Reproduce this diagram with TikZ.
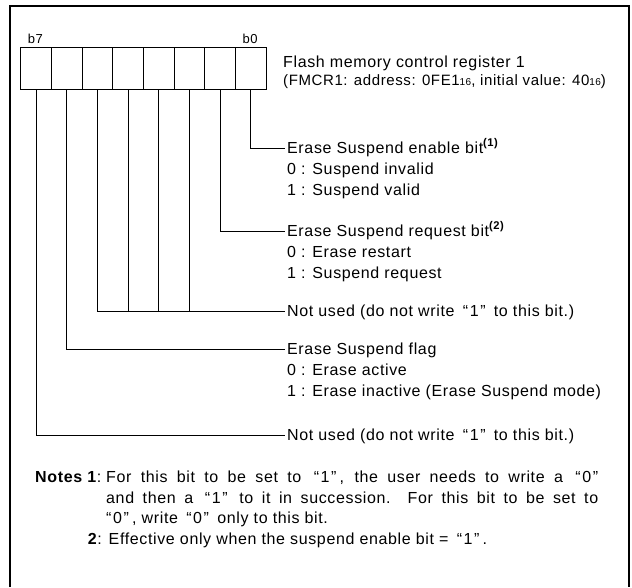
\documentclass[tikz,border=0pt]{standalone}
\usepackage{fontspec}
\setmainfont{Liberation Sans}[LetterSpace=4]
\usetikzlibrary{positioning}
\newcommand{\hexsub}{{\fontsize{10}{10}\selectfont 16}}
\newcommand{\qt}[1]{\hspace{0.2em}“\hspace{0.1em}#1\hspace{0.1em}”\hspace{0.2em}}

\begin{document}
\begin{tikzpicture}[
  x=1pt, y=-1pt,
  bitcell/.style={draw,line width=1pt,minimum width=30.67pt,minimum height=41.3pt,inner sep=0pt,outer sep=0pt},
  bitlbl/.style={anchor=south west,inner sep=0pt,font=\fontsize{13}{13}\selectfont},
  txt/.style={anchor=west,inner xsep=2pt,inner ysep=3pt,text height=12.5pt,text depth=2.5pt,font=\fontsize{16}{21}\selectfont},
  sub/.style={txt,anchor=north west},
  wire/.style={line width=1pt}
]
  \useasboundingbox (0,0) rectangle (632,587);
  \draw[line width=2.5pt] (10,587) -- (10,6) -- (629,6) -- (629,587);

  \foreach \b [evaluate=\b as \xc using {20.7+30.67*(7.5-\b)}] in {7,6,...,0}
    \node[bitcell] (bit\b) at (\xc,68.35) {};
  \node[bitlbl] (lbl7) at ([xshift=7pt,yshift=4pt]bit7.north west) {b7};
  \node[bitlbl] (lbl0) at ([xshift=7pt,yshift=4pt]bit0.north west) {b0};

  \node[txt] (title) at (281,62) {Flash memory control register 1};
  \node[txt,font=\fontsize{15}{21}\selectfont] (addr) at (281,80) {(FMCR1: address: 0FE1\hexsub, initial value: 40\hexsub)};

  \node[txt] (sen) at (285,148) {Erase Suspend enable bit\textsuperscript{\textbf{(1)}}};
  \node[sub] (sen0) at (sen.south west) {0 : Suspend invalid};
  \node[sub] (sen1) at (sen0.south west) {1 : Suspend valid};

  \node[txt] (srq) at (285,231) {Erase Suspend request bit\textsuperscript{\textbf{(2)}}};
  \node[sub] (srq0) at (srq.south west) {0 : Erase restart};
  \node[sub] (srq1) at (srq0.south west) {1 : Suspend request};

  \node[txt] (nu1) at (285,311) {Not used (do not write \qt{1} to this bit.)};

  \node[txt] (flg) at (285,349) {Erase Suspend flag};
  \node[sub] (flg0) at (flg.south west) {0 : Erase active};
  \node[sub] (flg1) at (flg0.south west) {1 : Erase inactive (Erase Suspend mode)};

  \node[txt] (nu2) at (285,435) {Not used (do not write \qt{1} to this bit.)};

  \draw[wire] (bit0.south) |- (sen.west);
  \draw[wire] (bit1.south) |- (srq.west);
  \draw[wire] (bit5.south) |- (nu1.west);
  \foreach \b in {2,3,4}
    \draw[wire] (bit\b.south) -- (bit\b.south |- nu1.west);
  \draw[wire] (bit6.south) |- (flg.west);
  \draw[wire] (bit7.south) |- (nu2.west);

  \node[anchor=north west,text width=563pt,align=justify,inner sep=0pt,font=\fontsize{16}{20.5}\selectfont] (notes) at (35,471)
    {\hangindent=71pt\hangafter=1\makebox[71pt][l]{\textbf{Notes 1}:}For this bit to be set to \qt{1}, the user needs to write a \qt{0}\linebreak
     and then a \qt{1} to it in succession. For this bit to be set to\linebreak
     \qt{0}, write \qt{0} only to this bit.\par
     \phantom{\textbf{Notes }}\textbf{2}: Effective only when the suspend enable bit = \qt{1}.};
\end{tikzpicture}
\end{document}
